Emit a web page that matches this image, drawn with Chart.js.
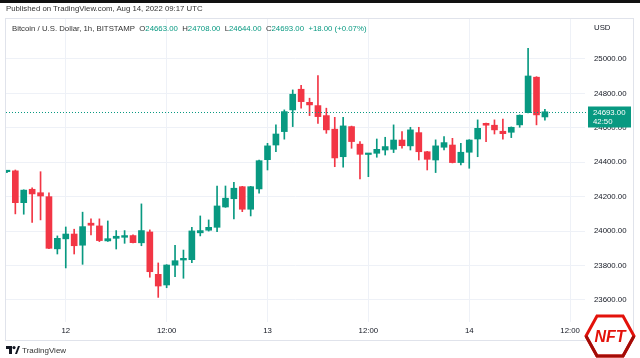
<!DOCTYPE html>
<html>
<head>
<meta charset="utf-8">
<script src="https://cdn.jsdelivr.net/npm/chart.js@4"></script>
<style>
  html, body { margin:0; padding:0; background:#fff; }
  #page { position:relative; width:640px; height:358px; overflow:hidden; font-family:"Liberation Sans", Arial, sans-serif; color:#131722; }
  #topbar { position:absolute; left:0; top:0; width:640px; height:3px; background:#111; }
  #frame { position:absolute; left:5px; top:18px; width:629px; height:323px; border:1px solid #e0e3eb; box-sizing:border-box; }
  #wrap { position:absolute; left:0; top:0; width:640px; height:358px; }
  .txt { position:absolute; white-space:nowrap; font-size:7.8px; line-height:10px; }
  #published { left:6px; top:4px; color:#333; }
  #legend { left:12px; top:24px; color:#333; }
  #legend .v { color:#089981; }
  #usd { left:594px; top:23px; color:#131722; }
  #tv { left:6px; top:346px; font-size:8px; color:#333; }
  #nft { position:absolute; left:584px; top:314px; }
</style>
</head>
<body>
<div id="page">
  <div id="topbar"></div>
  <div id="frame"></div>
  <div id="wrap"><canvas id="ch-btc"></canvas></div>
  <div class="txt" id="published">Published on TradingView.com, Aug 14, 2022 09:17 UTC</div>
  <div class="txt" id="legend">Bitcoin / U.S. Dollar, 1h, BITSTAMP&nbsp; O<span class="v">24663.00</span>&nbsp; H<span class="v">24708.00</span>&nbsp; L<span class="v">24644.00</span>&nbsp; C<span class="v">24693.00</span>&nbsp; <span class="v">+18.00 (+0.07%)</span></div>
  <div class="txt" id="usd">USD</div>
  <div class="txt" id="tv"><svg width="14" height="8" viewBox="0 0 14 8" style="vertical-align:-1px"><path d="M0 0h6v8h-3v-5h-3z" fill="#131722"/><circle cx="8" cy="1.6" r="1.6" fill="#131722"/><path d="M9 8l3-8h2l-3 8z" fill="#131722"/></svg> TradingView</div>
  <svg id="nft" width="52" height="44" viewBox="0 0 52 44">
    <polygon points="13,2 39,2 50,22 39,42 13,42 2,22" fill="#fff" stroke="#e3120b" stroke-width="3"/>
    <polyline points="2,22 13,42 39,42 50,22" fill="none" stroke="#a30c07" stroke-width="3"/>
    <text x="26" y="28" text-anchor="middle" font-family="Liberation Sans, Arial" font-weight="bold" font-style="italic" font-size="16" fill="#e3120b">NFT</text>
  </svg>
</div>
<script>
// ====================== DATA ======================
// hourly candles, BTC/USD Bitstamp, 11 Aug 17:00 -> 14 Aug 09:00 (hour 0 = 12 Aug 00:00)
const startHour = -7;
const opens  = [24345,24350,24165,24243,24223,24200,23897,23955,23983,23918,24046,24030,23943,23958,23964,23974,23932,23995,23749,23687,23802,23832,23834,23990,24005,24022,24140,24188,24258,24127,24245,24415,24500,24578,24704,24824,24748,24729,24671,24592,24432,24607,24505,24445,24452,24471,24475,24529,24495,24572,24461,24413,24487,24500,24398,24458,24535,24626,24615,24580,24574,24617,24688,24894,24663];
const highs  = [24352,24355,24240,24252,24345,24222,23972,24024,24011,24110,24071,24071,24059,24003,24003,23978,24158,24007,23815,23805,23918,23890,24022,24088,24065,24262,24262,24284,24260,24260,24412,24510,24617,24704,24820,24847,24772,24903,24714,24661,24661,24610,24520,24450,24535,24545,24617,24578,24603,24603,24463,24530,24549,24539,24510,24531,24646,24628,24646,24650,24605,24675,25062,24897,24708];
const lows   = [24340,24100,24098,24050,24065,23898,23867,23786,23867,23807,23978,23939,23940,23896,23929,23931,23915,23732,23615,23671,23735,23726,23817,23972,24000,23997,24138,24071,24113,24088,24220,24355,24461,24534,24607,24714,24671,24626,24568,24374,24371,24481,24303,24316,24429,24442,24456,24481,24471,24413,24355,24340,24471,24396,24384,24365,24432,24520,24564,24534,24543,24603,24686,24617,24644];
const closes = [24350,24165,24238,24216,24204,23900,23958,23983,23915,24026,24034,23945,23956,23970,23974,23933,24003,23764,23681,23803,23828,23842,24001,24003,24022,24146,24191,24249,24127,24258,24409,24495,24564,24694,24795,24752,24733,24665,24588,24425,24611,24520,24446,24448,24475,24491,24529,24496,24588,24461,24417,24495,24514,24398,24458,24529,24597,24615,24588,24566,24603,24673,24901,24675,24693];

const xTickHours  = [0, 12, 24, 36, 48, 60];
const xTickLabels = ['12', '12:00', '13', '12:00', '14', '12:00'];
const yTicks = [23600, 23800, 24000, 24200, 24400, 24600, 24800, 25000];
const countdown = '42:50';

const UP = '#089981', DOWN = '#f23645';
const colors = opens.map((o, i) => closes[i] >= o ? UP : DOWN);
const bodies = opens.map((o, i) => ({ x: startHour + i, y: [o, closes[i]] }));
const wicks  = lows.map((l, i) => ({ x: startHour + i, y: [l, highs[i]] }));
const lastClose = closes[closes.length - 1];

// price line + countdown label on the price axis
const priceLabel = {
  id: 'priceLabel',
  afterDraw(chart) {
    const { ctx, chartArea, scales } = chart;
    const y = Math.round(scales.y.getPixelForValue(lastClose)) + 0.5;
    ctx.save();
    ctx.strokeStyle = UP;
    ctx.lineWidth = 1;
    ctx.setLineDash([1, 2]);
    ctx.beginPath();
    ctx.moveTo(chartArea.left, y);
    ctx.lineTo(588, y);
    ctx.stroke();
    ctx.setLineDash([]);
    ctx.fillStyle = UP;
    ctx.fillRect(588, y - 6, 43, 21);
    ctx.fillStyle = '#fff';
    ctx.font = '7.8px "Liberation Sans", Arial, sans-serif';
    ctx.textBaseline = 'middle';
    ctx.textAlign = 'left';
    ctx.fillText(lastClose.toFixed(2), 593, y);
    ctx.fillText(countdown, 593, y + 9);
    ctx.restore();
  }
};

let activeCharts = {};
const cvs = document.getElementById('ch-btc');
activeCharts.btc = new Chart(cvs, {
  type: 'bar',
  data: {
    datasets: [
      { label: 'Body', data: bodies, backgroundColor: colors, barThickness: 6, minBarLength: 1.5, grouped: false, borderWidth: 0 },
      { label: 'Wick', data: wicks, backgroundColor: colors, barThickness: 1, grouped: false, borderWidth: 0 }
    ]
  },
  options: {
    responsive: true, maintainAspectRatio: false, animation: false,
    layout: { padding: { left: 6, top: 19, right: 6, bottom: 18 } },
    plugins: { legend: { display: false }, tooltip: { enabled: false } },
    scales: {
      x: {
        type: 'linear', min: -7.11, max: 61.77, offset: false,
        grid: { color: '#eef1f7', drawTicks: false, tickLength: 0, offset: false },
        border: { display: false },
        afterBuildTicks: s => { s.ticks = xTickHours.map(v => ({ value: v })); },
        afterFit: s => { s.height = 18; },
        ticks: {
          autoSkip: false, maxRotation: 0, padding: 4, color: '#131722',
          font: { family: '"Liberation Sans", Arial, sans-serif', size: 7.8 },
          callback: v => xTickLabels[xTickHours.indexOf(v)]
        }
      },
      y: {
        position: 'right', min: 23472, max: 25232,
        grid: { color: '#eef1f7', drawTicks: false, tickLength: 0 },
        border: { display: false },
        afterBuildTicks: s => { s.ticks = yTicks.map(v => ({ value: v })); },
        afterFit: s => { s.width = 49; },
        ticks: {
          padding: 9, color: '#131722',
          font: { family: '"Liberation Sans", Arial, sans-serif', size: 7.8 },
          callback: v => v.toFixed(2)
        }
      }
    }
  },
  plugins: [priceLabel]
});
</script>
</body>
</html>
